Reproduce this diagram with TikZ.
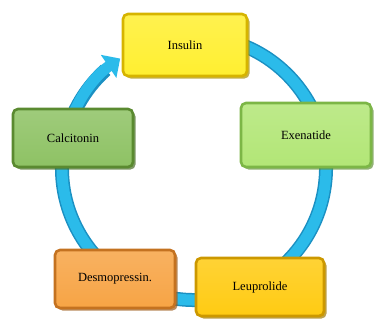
\documentclass[tikz,border=0pt]{standalone}
\usepackage{fontspec}
\setmainfont{Liberation Serif}
\usetikzlibrary{arrows.meta,shapes,positioning,shadows}
\definecolor{ringblue}{HTML}{2BBBEA}
\definecolor{ringdark}{HTML}{1B90C2}
\definecolor{insfill}{HTML}{FFEF30}
\definecolor{insedge}{HTML}{D6B400}
\definecolor{exefill}{HTML}{B2E676}
\definecolor{exeedge}{HTML}{7CB646}
\definecolor{calfill}{HTML}{8EC264}
\definecolor{caledge}{HTML}{5A8A30}
\definecolor{desfill}{HTML}{F7A445}
\definecolor{desedge}{HTML}{C47220}
\definecolor{leufill}{HTML}{FFCB12}
\definecolor{leuedge}{HTML}{CC9800}
\tikzset{
  drug/.style 2 args={draw=#2, line width=2.6pt, rounded corners=5pt,
    top color=#1!85!white, bottom color=#1, text=black,
    drop shadow={shadow xshift=2.5pt, shadow yshift=-2.5pt, fill=#2!80!black, opacity=0.7},
    font=\fontsize{12.5}{14}\selectfont}
}

\begin{document}
\begin{tikzpicture}[x=1pt,y=-1pt]
                \useasboundingbox (0,0) rectangle (377,321);
                \coordinate (hub) at (194,168);
                % ring with arrow
                \draw [ringdark, line width=14pt] (hub) ++(-80:132) arc[start angle=-80, end angle=228, radius=132];
                \draw [ringblue, line width=11pt, -{Triangle[length=14pt, width=27pt]}] (hub) ++(-80:132) arc[start angle=-80, end angle=236, radius=132];
                % drugs
                \node [drug={insfill}{insedge}, minimum width=124pt, minimum height=62pt] (insulin) at (185,45) {Insulin};
                \node [drug={exefill}{exeedge}, minimum width=130pt, minimum height=64pt] (exenatide) at (306,135) {Exenatide};
                \node [drug={calfill}{caledge}, minimum width=120pt, minimum height=58pt] (calcitonin) at (73,138) {Calcitonin};
                \node [drug={desfill}{desedge}, minimum width=120pt, minimum height=58pt] (desmopressin) at (115,279) {Desmopressin.};
                \node [drug={leufill}{leuedge}, minimum width=128pt, minimum height=58pt] (leuprolide) at (260,287) {Leuprolide};
\end{tikzpicture}
\end{document}
